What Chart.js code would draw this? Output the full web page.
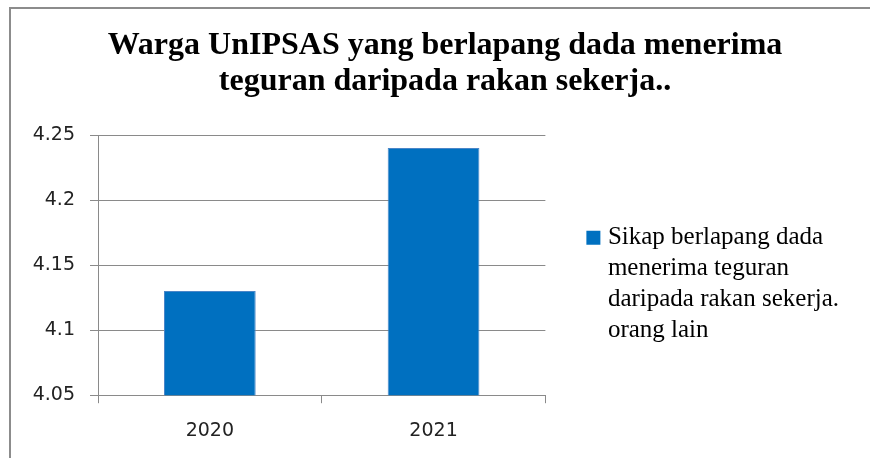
<!DOCTYPE html>
<html>
<head>
<meta charset="utf-8">
<script src="https://cdn.jsdelivr.net/npm/chart.js@4/dist/chart.umd.min.js"></script>
<style>
  html, body { margin: 0; padding: 0; background: #ffffff; }
  #wrap { position: relative; width: 870px; height: 458px; overflow: hidden; }
  #frame { position: absolute; left: 9px; top: 7px; width: 900px; height: 500px;
           border-top: 2px solid #8c8c8c; border-left: 2px solid #8c8c8c; }
  canvas { position: absolute; left: 0; top: 0; }
</style>
</head>
<body>
<div id="wrap">
  <div id="frame"></div>
  <canvas id="c" width="870" height="458"></canvas>
</div>
<script>
const categories = ['2020', '2021'];
const values = [4.13, 4.24];
const yTicks = [4.05, 4.1, 4.15, 4.2, 4.25];
const titleLines = ['Warga UnIPSAS yang berlapang dada menerima', 'teguran daripada rakan sekerja..'];
const seriesName = 'Sikap berlapang dada menerima teguran daripada rakan sekerja. orang lain';
const legendLines = ['Sikap berlapang dada', 'menerima teguran', 'daripada rakan sekerja.', 'orang lain'];

const barColor = '#0070C0';
const gridColor = '#8a8a8a';
const axisFont = { family: 'DejaVu Sans', size: 19, lineHeight: 1.2 };

// nudge the title block so it is centred like in the reference
const titleShift = {
  id: 'titleShift',
  afterLayout(chart) {
    const t = chart.titleBlock;
    if (t) { t.left += 8; t.right += 8; }
  }
};

new Chart(document.getElementById('c'), {
  type: 'bar',
  plugins: [titleShift],
  data: {
    labels: categories,
    datasets: [{
      label: seriesName,
      data: values,
      backgroundColor: barColor,
      borderColor: '#4a86c8',
      borderWidth: 1,
      barPercentage: 0.41,
      categoryPercentage: 1.0
    }]
  },
  options: {
    responsive: false,
    animation: false,
    events: [],
    layout: { padding: { left: 25, right: 21, top: 0, bottom: 0 } },
    plugins: {
      tooltip: { enabled: false },
      title: {
        display: true,
        text: titleLines,
        color: '#000000',
        font: { family: 'Liberation Serif', size: 32, weight: 'bold', lineHeight: 1.125 },
        padding: { top: 28, bottom: 35 }
      },
      legend: {
        display: true,
        position: 'right',
        align: 'end',
        fullSize: false,
        maxWidth: 400,
        labels: {
          color: '#000000',
          font: { family: 'Liberation Serif', size: 25, lineHeight: 1.24 },
          usePointStyle: true,
          boxWidth: 4,
          boxHeight: 14,
          padding: 46,
          generateLabels: (chart) => [{
            text: legendLines,
            fillStyle: barColor,
            strokeStyle: barColor,
            lineWidth: 0,
            pointStyle: 'rect',
            hidden: false,
            datasetIndex: 0
          }]
        }
      }
    },
    scales: {
      x: {
        grid: {
          display: true,
          drawOnChartArea: false,
          drawTicks: true,
          tickLength: 8,
          offset: true,
          color: gridColor
        },
        border: { display: true, color: gridColor },
        ticks: { color: '#222222', font: axisFont, padding: 16 }
      },
      y: {
        min: 4.05,
        max: 4.25,
        afterBuildTicks: (scale) => { scale.ticks = yTicks.map(v => ({ value: v })); },
        afterFit: (scale) => { scale.width = 73; },
        grid: { color: gridColor, tickLength: 8, drawTicks: true },
        border: { display: true, color: gridColor },
        ticks: {
          color: '#222222',
          font: axisFont,
          padding: 15,
          callback: (v) => String(v)
        }
      }
    }
  }
});
</script>
</body>
</html>
